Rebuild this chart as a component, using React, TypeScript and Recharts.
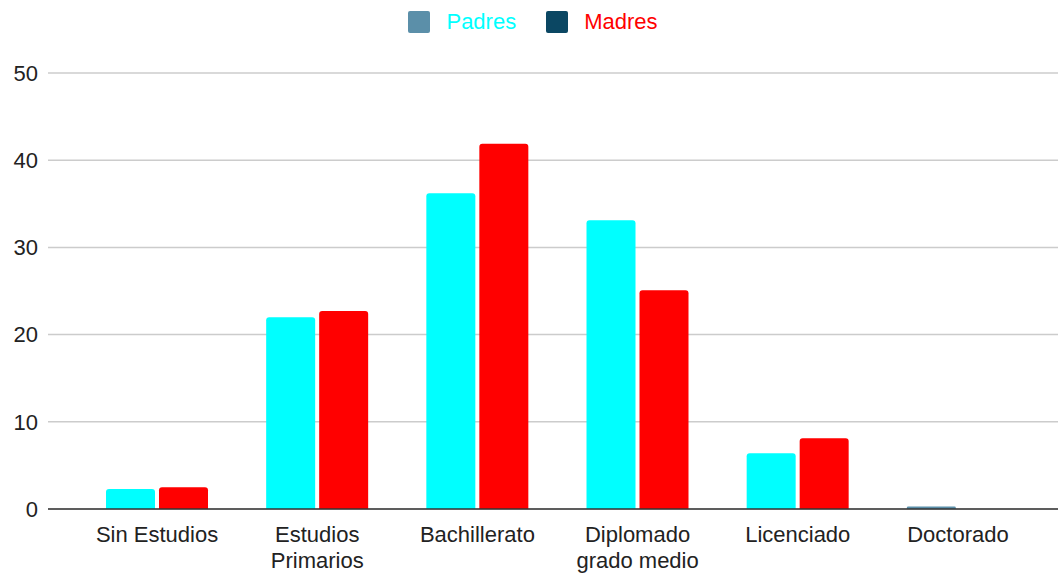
import React from 'react';
import { BarChart, Bar, XAxis, YAxis, CartesianGrid, Legend, Cell } from 'recharts';

const niveles = [
  'Sin Estudios',
  'Estudios Primarios',
  'Bachillerato',
  'Diplomado grado medio',
  'Licenciado',
  'Doctorado',
];
// wrapped label lines for the category axis
const etiquetas = [
  ['Sin Estudios'],
  ['Estudios', 'Primarios'],
  ['Bachillerato'],
  ['Diplomado', 'grado medio'],
  ['Licenciado'],
  ['Doctorado'],
];
const padres = [2.3, 22.0, 36.2, 33.1, 6.4, 0.3];
const madres = [2.5, 22.7, 41.9, 25.1, 8.1, 0];
const yTicks = [0, 10, 20, 30, 40, 50];

const FONT = 'Arial, "Liberation Sans", sans-serif';
const PADRES_FILL = '#00ffff';
const MADRES_FILL = '#ff0000';

const data = niveles.map((nivel, i) => ({
  nivel,
  Padres: padres[i],
  Madres: madres[i],
}));

const legendItems = [
  { name: 'Padres', swatch: '#5b8fa9', text: '#00ffff' },
  { name: 'Madres', swatch: '#0b4763', text: '#ff0000' },
];

const LegendBox = () => (
  <div
    style={{
      height: 73,
      display: 'flex',
      justifyContent: 'center',
      alignItems: 'flex-start',
      paddingTop: 11,
      paddingLeft: 8,
      boxSizing: 'border-box',
      fontFamily: FONT,
      fontSize: 22,
    }}
  >
    {legendItems.map((it, i) => (
      <div
        key={it.name}
        style={{ display: 'flex', alignItems: 'center', marginLeft: i === 0 ? 0 : 30 }}
      >
        <span
          style={{
            width: 22,
            height: 22,
            borderRadius: 2,
            background: it.swatch,
            display: 'inline-block',
            marginRight: 16,
          }}
        />
        <span style={{ color: it.text, lineHeight: '22px' }}>{it.name}</span>
      </div>
    ))}
  </div>
);

const CategoryTick = (props: any) => {
  const { x, y, index } = props;
  const lines = etiquetas[index] || [];
  return (
    <text x={x} y={y} textAnchor="middle" fill="#222" fontFamily={FONT} fontSize={22}>
      {lines.map((l, i) => (
        <tspan key={i} x={x} dy={i === 0 ? 33 : 26}>
          {l}
        </tspan>
      ))}
    </text>
  );
};

export default function App() {
  return (
    <div style={{ position: 'absolute', left: 0, top: 0, background: '#fff' }}>
      <BarChart
        width={1058}
        height={577}
        data={data}
        margin={{ top: 0, right: 0, bottom: 0, left: 0 }}
        barSize={49}
        barGap={4}
      >
        <Legend verticalAlign="top" content={<LegendBox />} />
        <CartesianGrid vertical={false} stroke="#cccccc" strokeWidth={1.5} />
        <XAxis
          dataKey="nivel"
          height={68}
          padding={{ left: 29, right: 20 }}
          tickLine={false}
          tickSize={0}
          tickMargin={0}
          axisLine={{ stroke: '#333', strokeWidth: 1.5 }}
          interval={0}
          tick={<CategoryTick />}
        />
        <YAxis
          width={48}
          domain={[0, 50]}
          ticks={yTicks}
          axisLine={false}
          tickLine={false}
          tickSize={0}
          tickMargin={10}
          tick={{ fill: '#222', fontFamily: FONT, fontSize: 22 }}
        />
        <Bar dataKey="Padres" fill={PADRES_FILL} radius={[3, 3, 0, 0]} isAnimationActive={false}>
          {data.map((d, i) => (
            <Cell key={i} fill={d.nivel === 'Doctorado' ? '#5b8fa9' : PADRES_FILL} />
          ))}
        </Bar>
        <Bar dataKey="Madres" fill={MADRES_FILL} radius={[3, 3, 0, 0]} isAnimationActive={false} />
      </BarChart>
    </div>
  );
}
